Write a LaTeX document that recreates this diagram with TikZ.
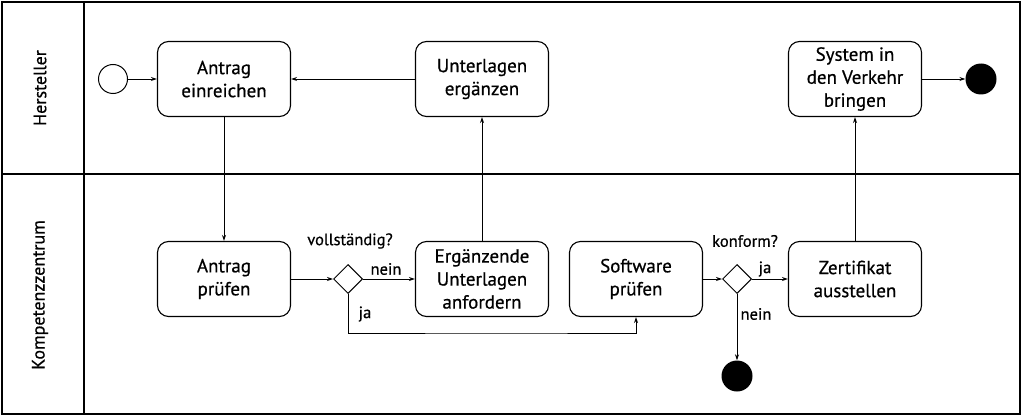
\documentclass[tikz,border=0pt]{standalone}
\usepackage{fontspec}
\setmainfont{PT Sans}[FakeBold=0.6]
\usetikzlibrary{arrows.meta,shapes.geometric}
\begin{document}
\begin{tikzpicture}[x=1pt,y=-1pt,
  act/.style={draw, rounded corners=11pt, line width=1.1pt, minimum width=133pt,
    minimum height=75pt, align=center, font=\fontsize{19}{23}\selectfont},
  gate/.style={draw, diamond, line width=1pt, minimum size=29pt, inner sep=0pt},
  startev/.style={draw, circle, line width=1pt, minimum size=29pt},
  endev/.style={fill, circle, minimum size=31pt},
  lbl/.style={font=\fontsize{16.5}{20}\selectfont},
  flow/.style={-{Stealth[length=6pt,width=4pt]}, line width=0.9pt}]
\useasboundingbox (0,0) rectangle (1024,417);
% lanes
\draw[line width=1.1pt] (2,2) rectangle (1020,414);
\draw[line width=1.1pt] (84,2) -- (84,414) (2,174) -- (1020,174);
\node[rotate=90, lbl, font=\fontsize{18}{20}\selectfont] (hersteller) at (40,88) {Hersteller};
\node[rotate=90, lbl, font=\fontsize{18}{20}\selectfont] (kompetenz) at (40,295) {Kompetenzzentrum};
% Hersteller
\node[startev] (start) at (113,79) {};
\node[act] (einreichen) at (224,79) {Antrag\\einreichen};
\node[act] (ergaenzen) at (482,79) {Unterlagen\\ergänzen};
\node[act] (verkehr) at (855,79) {System in\\den Verkehr\\bringen};
\node[endev] (ende1) at (981,79) {};
% Kompetenzzentrum
\node[act] (pruefen) at (224,279) {Antrag\\prüfen};
\node[gate] (vollst) at (348,279) {};
\node[act] (anfordern) at (482,279) {Ergänzende\\Unterlagen\\anfordern};
\node[act] (software) at (636,279) {Software\\prüfen};
\node[gate] (konform) at (737,279) {};
\node[act] (zertifikat) at (855,279) {Zertifikat\\ausstellen};
\node[endev] (ende2) at (737,376) {};
% flows
\draw[flow] (start) -- (einreichen);
\draw[flow] (ergaenzen) -- (einreichen);
\draw[flow] (einreichen) -- (pruefen);
\draw[flow] (pruefen) -- (vollst);
\draw[flow] (vollst) -- (anfordern);
\draw[flow] (vollst.south) |- (500,333) -| (software.south);
\draw[flow] (anfordern) -- (ergaenzen);
\draw[flow] (software) -- (konform);
\draw[flow] (konform) -- (zertifikat);
\draw[flow] (konform) -- (ende2);
\draw[flow] (zertifikat) -- (verkehr);
\draw[flow] (verkehr) -- (ende1);
% labels
\node[lbl] (q1) at (350,241) {vollständig?};
\node[lbl] (nein1) at (386,269) {nein};
\node[lbl] (ja1) at (365,314) {ja};
\node[lbl] (q2) at (745,241) {konform?};
\node[lbl] (ja2) at (765,269) {ja};
\node[lbl] (nein2) at (756,314) {nein};
\end{tikzpicture}
\end{document}
